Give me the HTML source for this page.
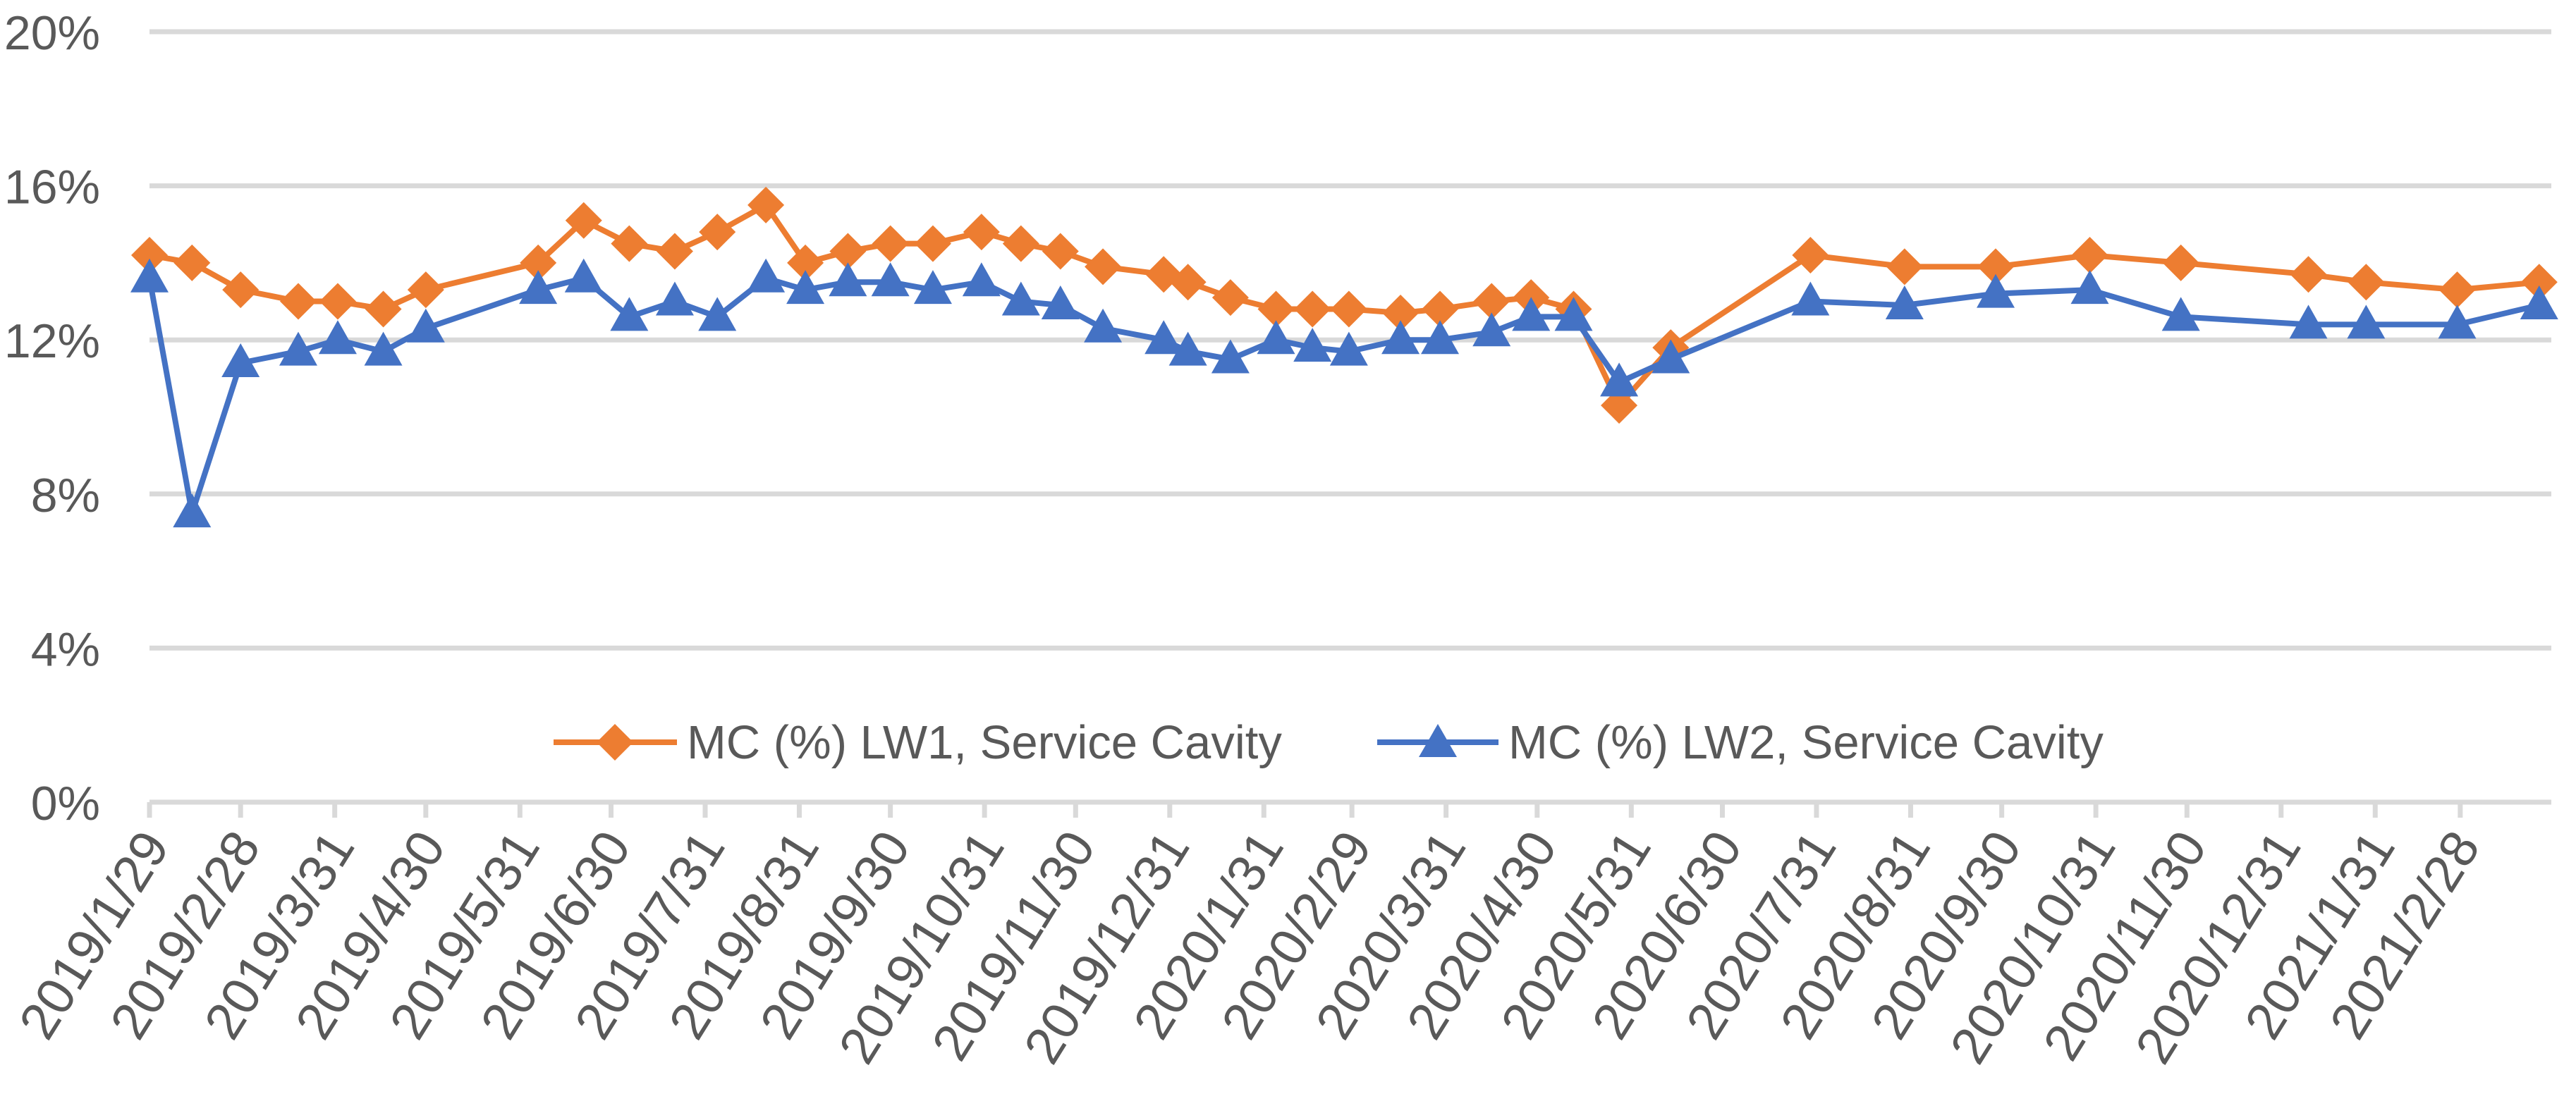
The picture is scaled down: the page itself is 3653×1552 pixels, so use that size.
<!DOCTYPE html>
<html><head><meta charset="utf-8"><style>
html,body{margin:0;padding:0;background:#fff;}
svg{display:block;font-family:"Liberation Sans",sans-serif;}
</style></head><body>
<svg id="chart" width="3653" height="1552" viewBox="0 0 3653 1552" xmlns="http://www.w3.org/2000/svg">
<g id="grid"></g>
<g id="yaxis"></g>
<g id="xaxis"></g>
<g id="series"></g>
<g id="legend">
  <g>
    <line x1="785" y1="1053" x2="960" y2="1053" stroke="#ED7D31" stroke-width="8"/>
    <polygon points="872,1027 898,1053 872,1079 846,1053" fill="#ED7D31"/>
    <text x="974" y="1076" font-size="67" fill="#595959">MC (%) LW1, Service Cavity</text>
  </g>
  <g>
    <line x1="1953" y1="1053" x2="2125" y2="1053" stroke="#4472C4" stroke-width="8"/>
    <polygon points="2039,1027 2066,1074 2012,1074" fill="#4472C4"/>
    <text x="2139" y="1076" font-size="67" fill="#595959">MC (%) LW2, Service Cavity</text>
  </g>
</g>
</svg>
<script>
const pointDates = ["2019-01-29","2019-02-12","2019-02-28","2019-03-19","2019-04-01","2019-04-16","2019-04-30","2019-06-06","2019-06-21","2019-07-06","2019-07-21","2019-08-04","2019-08-20","2019-09-02","2019-09-16","2019-09-30","2019-10-14","2019-10-30","2019-11-12","2019-11-25","2019-12-09","2019-12-29","2020-01-06","2020-01-20","2020-02-04","2020-02-16","2020-02-28","2020-03-16","2020-03-29","2020-04-15","2020-04-28","2020-05-12","2020-05-27","2020-06-13","2020-07-29","2020-08-29","2020-09-28","2020-10-29","2020-11-28","2021-01-09","2021-01-28","2021-02-27","2021-03-26"];
const lw1Values = [14.2,14.0,13.3,13.0,13.0,12.8,13.3,14.0,15.1,14.5,14.3,14.8,15.5,14.0,14.3,14.5,14.5,14.8,14.5,14.3,13.9,13.7,13.5,13.1,12.8,12.8,12.8,12.7,12.8,13.0,13.1,12.8,10.3,11.8,14.2,13.9,13.9,14.2,14.0,13.7,13.5,13.3,13.5];
const lw2Values = [13.6,7.5,11.4,11.7,12.0,11.7,12.3,13.3,13.6,12.6,13.0,12.6,13.6,13.3,13.5,13.5,13.3,13.5,13.0,12.9,12.3,12.0,11.7,11.5,12.0,11.8,11.7,12.0,12.0,12.2,12.6,12.6,10.9,11.5,13.0,12.9,13.2,13.3,12.6,12.4,12.4,12.4,12.9];
const tickDates = ["2019-01-29","2019-02-28","2019-03-31","2019-04-30","2019-05-31","2019-06-30","2019-07-31","2019-08-31","2019-09-30","2019-10-31","2019-11-30","2019-12-31","2020-01-31","2020-02-29","2020-03-31","2020-04-30","2020-05-31","2020-06-30","2020-07-31","2020-08-31","2020-09-30","2020-10-31","2020-11-30","2020-12-31","2021-01-31","2021-02-28"];
const tickLabels = ["2019/1/29","2019/2/28","2019/3/31","2019/4/30","2019/5/31","2019/6/30","2019/7/31","2019/8/31","2019/9/30","2019/10/31","2019/11/30","2019/12/31","2020/1/31","2020/2/29","2020/3/31","2020/4/30","2020/5/31","2020/6/30","2020/7/31","2020/8/31","2020/9/30","2020/10/31","2020/11/30","2020/12/31","2021/1/31","2021/2/28"];
const yTicks = [0,4,8,12,16,20];
const yTickLabels = ["0%","4%","8%","12%","16%","20%"];

const NS="http://www.w3.org/2000/svg";
const X0=212,X1=3618,Y0=1138,Y1=45;
const dStart=Date.UTC(2019,0,29), dEnd=Date.UTC(2021,2,30);
function dayMs(s){const p=s.split("-");return Date.UTC(+p[0],+p[1]-1,+p[2]);}
function xScale(s){return X0+(dayMs(s)-dStart)/(dEnd-dStart)*(X1-X0);}
function yScale(v){return Y0+(v-0)/(20-0)*(Y1-Y0);}
function mk(tag,attrs,parent){const e=document.createElementNS(NS,tag);for(const k in attrs)e.setAttribute(k,attrs[k]);parent.appendChild(e);return e;}

const grid=document.getElementById('grid'),yax=document.getElementById('yaxis'),xax=document.getElementById('xaxis'),ser=document.getElementById('series');
yTicks.forEach((v,i)=>{
  const y=yScale(v);
  const l=mk('line',{x1:X0,x2:X1,y1:y,y2:y,stroke:'#d9d9d9','stroke-width':7},grid);
  
  
  const t=mk('text',{x:142,y:y+25,'text-anchor':'end','font-size':68,fill:'#595959'},yax);
  t.textContent=yTickLabels[i];
  
  
});
tickDates.forEach((d,i)=>{
  const x=xScale(d);
  const tk=mk('line',{x1:x,x2:x,y1:Y0,y2:Y0+22,stroke:'#d9d9d9','stroke-width':7},xax);
  
  
  const ax=x+30, ay=Y0+62;
  const t=mk('text',{x:ax,y:ay,'text-anchor':'end','font-size':74,fill:'#595959',transform:`rotate(-58 ${ax} ${ay})`},xax);
  t.textContent=tickLabels[i];
  
  
});
function drawSeries(vals,color,marker,name){
  const g=mk('g',{},ser);
  
  
  const pts=vals.map((v,i)=>[xScale(pointDates[i]),yScale(v)]);
  const pl=mk('polyline',{points:pts.map(p=>p.join(',')).join(' '),fill:'none',stroke:color,'stroke-width':8,'stroke-linejoin':'round'},g);
  
  
  pts.forEach(([x,y])=>{
    let p;
    if(marker==='diamond') p=mk('polygon',{points:`${x},${y-26} ${x+26},${y} ${x},${y+26} ${x-26},${y}`,fill:color},g);
    else p=mk('polygon',{points:`${x},${y-28} ${x+27},${y+20} ${x-27},${y+20}`,fill:color},g);
    
    
  });
}
drawSeries(lw1Values,'#ED7D31','diamond','series-lw1');
drawSeries(lw2Values,'#4472C4','triangle','series-lw2');
</script>
</body></html>
